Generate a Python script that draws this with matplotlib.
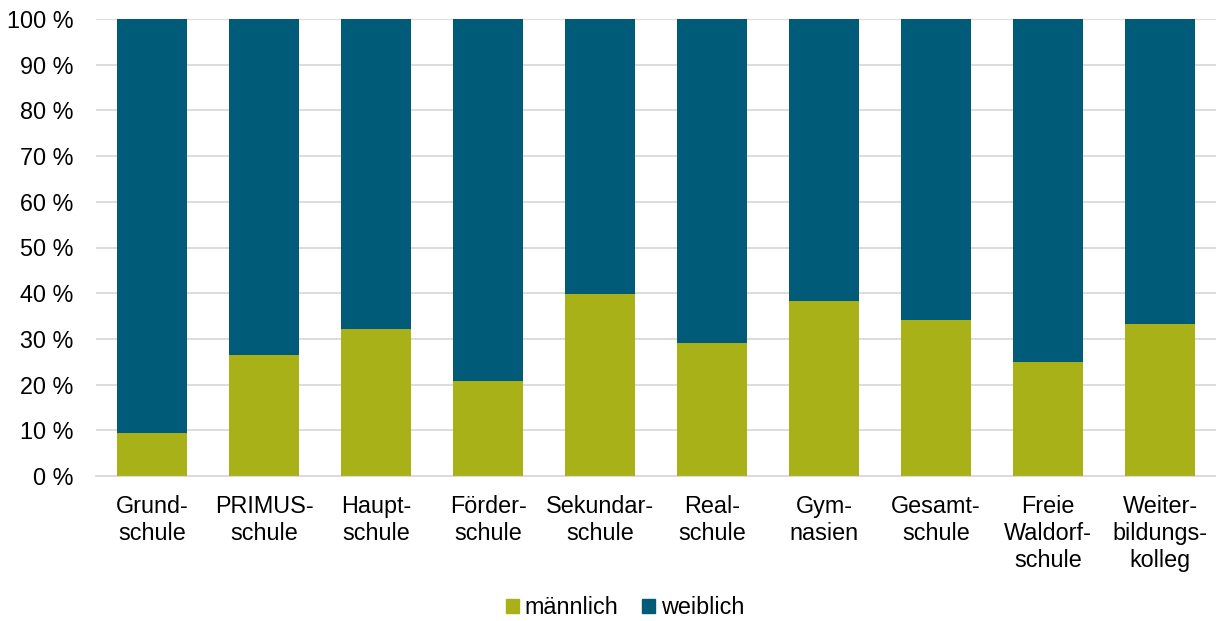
import matplotlib.pyplot as plt
import numpy as np
from matplotlib.patches import Patch

plt.rcParams['font.family'] = ['Liberation Sans', 'DejaVu Sans']

schulen = ["Grund-\nschule", "PRIMUS-\nschule", "Haupt-\nschule", "Förder-\nschule",
           "Sekundar-\nschule", "Real-\nschule", "Gym-\nnasien", "Gesamt-\nschule",
           "Freie\nWaldorf-\nschule", "Weiter-\nbildungs-\nkolleg"]
maennlich = [9.4, 26.5, 32.2, 20.7, 39.9, 29.0, 38.4, 34.1, 24.9, 33.3]
weiblich = [100 - m for m in maennlich]

gruen = '#A8B218'
blau = '#005B78'
fs = 16.8

fig = plt.figure(figsize=(12.16, 6.21), dpi=100)
ax = fig.add_axes([96 / 1216, (621 - 476) / 621, 1120 / 1216, 457 / 621])

ind = np.arange(len(schulen))
ax.bar(ind, maennlich, width=0.625, color=gruen, zorder=3)
ax.bar(ind, weiblich, width=0.625, bottom=maennlich, color=blau, zorder=3)

ax.set_xlim(-0.5, 9.5)
ax.set_ylim(0, 100)
ax.set_yticks(range(0, 101, 10))
ax.set_yticklabels([f"{v} %" for v in range(0, 101, 10)], fontsize=fs, color='#000000')
ax.set_xticks(ind)
ax.set_xticklabels(schulen, fontsize=fs, linespacing=1.2)
ax.tick_params(axis='both', length=0)
ax.tick_params(axis='x', pad=14)
ax.tick_params(axis='y', pad=16)
ax.grid(axis='y', color='#D9D9D9', linewidth=1.3, zorder=0)
for s in ['top', 'right', 'left']:
    ax.spines[s].set_visible(False)
ax.spines['bottom'].set_color('#D9D9D9')
ax.spines['bottom'].set_linewidth(1.3)

handles = [Patch(color=gruen, label='männlich'), Patch(color=blau, label='weiblich')]
fig.legend(handles=handles, loc='center', bbox_to_anchor=(625 / 1216, 1 - 608 / 621), ncol=2,
           frameon=False, fontsize=fs, handlelength=0.56, handleheight=0.56,
           handletextpad=0.25, columnspacing=1.0, borderpad=0.2)

plt.savefig("out.png", dpi=100)
